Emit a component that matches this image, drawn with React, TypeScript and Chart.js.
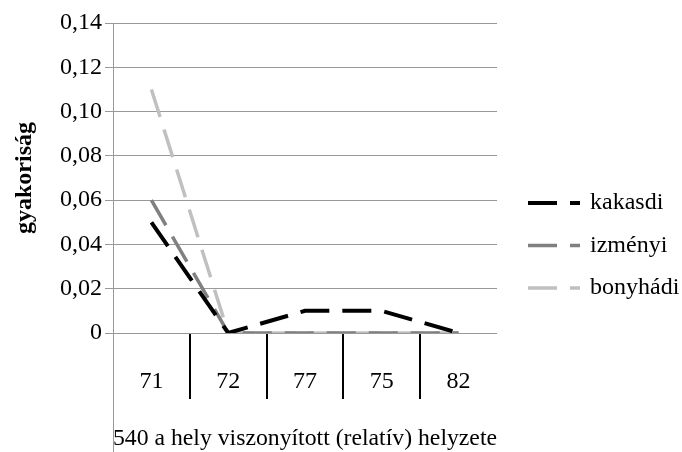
import React, { useEffect, useRef } from "react";
import { Chart, registerables } from "chart.js";

Chart.register(...registerables);

const categories = ["71", "72", "77", "75", "82"];
const seriesNames = ["kakasdi", "izményi", "bonyhádi"];
const kakasdi = [0.05, 0, 0.01, 0.01, 0];
const izmenyi = [0.06, 0, 0, 0, 0];
const bonyhadi = [0.11, 0, 0, 0, 0];
const seriesValues = [kakasdi, izmenyi, bonyhadi];
const seriesColors = ["#000000", "#808080", "#c0c0c0"];
const seriesWidths = [4, 3.5, 3.5];
const yMin = 0;
const yMax = 0.14;
const yStep = 0.02;
const xTitle = "540 a hely viszonyított (relatív) helyzete";
const yTitle = "gyakoriság";

const FONT = "'Liberation Serif', 'Times New Roman', serif";
const GRID = "#999999";
const DASH = [29, 13];

const extrasPlugin = {
  id: "extras",
  afterDraw(chart: any) {
    const { ctx, chartArea } = chart;
    ctx.save();
    // extend left axis line to bottom
    ctx.strokeStyle = GRID;
    ctx.lineWidth = 1;
    ctx.beginPath();
    const x = Math.round(chartArea.left) + 0.5;
    ctx.moveTo(x, chartArea.bottom);
    ctx.lineTo(x, chart.height);
    ctx.stroke();
    // legend
    const lx = 528;
    const lw = 52;
    const ly0 = 203;
    const lgap = 42.5;
    ctx.font = `24px ${FONT}`;
    ctx.textBaseline = "middle";
    ctx.textAlign = "left";
    chart.data.datasets.forEach((ds: any, i: number) => {
      const y = ly0 + i * lgap;
      ctx.strokeStyle = ds.borderColor;
      ctx.lineWidth = ds.borderWidth;
      ctx.lineCap = "butt";
      ctx.setLineDash(ds.borderDash || []);
      ctx.beginPath();
      ctx.moveTo(lx, y);
      ctx.lineTo(lx + lw, y);
      ctx.stroke();
      ctx.setLineDash([]);
      ctx.fillStyle = "#000";
      ctx.fillText(ds.label, lx + lw + 10, y);
    });
    ctx.restore();
  },
};

export default function App() {
  const ref = useRef<HTMLCanvasElement>(null);
  useEffect(() => {
    const canvas = ref.current!;
    const chart = new Chart(canvas, {
      type: "line",
      data: {
        labels: categories,
        datasets: seriesNames.map((name, i) => ({
          label: name,
          data: seriesValues[i],
          borderColor: seriesColors[i],
          backgroundColor: seriesColors[i],
          borderWidth: seriesWidths[i],
          borderDash: DASH,
          borderCapStyle: "butt",
          pointRadius: 0,
          fill: false,
          tension: 0,
        })),
      },
      options: {
        responsive: false,
        animation: false,
        layout: { padding: { left: 0, right: 185, top: 23, bottom: 0 } },
        plugins: {
          legend: { display: false },
          tooltip: { enabled: false },
        },
        scales: {
          x: {
            offset: true,
            grid: {
              offset: true,
              drawOnChartArea: false,
              drawTicks: true,
              tickLength: 66,
              lineWidth: 2,
              color: (c: any) =>
                c.type !== "tick" || c.index === 0 ? "rgba(0,0,0,0)" : "#000000",
            },
            border: { display: false },
            ticks: {
              color: "#000",
              font: { family: FONT, size: 24 },
              padding: -32,
              maxRotation: 0,
              autoSkip: false,
            },
            title: {
              display: true,
              text: xTitle,
              align: "start",
              color: "#000",
              font: { family: FONT, size: 24, lineHeight: 1 },
              padding: { top: 0, bottom: 1 },
            },
            afterFit: (s: any) => {
              s.height = 119;
            },
          },
          y: {
            min: yMin,
            max: yMax,
            grid: {
              color: GRID,
              lineWidth: 1,
              tickLength: 8,
            },
            border: { display: true, color: GRID, width: 1 },
            ticks: {
              stepSize: yStep,
              color: "#000",
              padding: 3,
              font: { family: FONT, size: 24 },
              callback: (v: any) => {
                const n = Number(v);
                return Math.abs(n) < 1e-9 ? "0" : n.toFixed(2).replace(".", ",");
              },
            },
            title: {
              display: true,
              text: yTitle,
              color: "#000",
              font: { family: FONT, size: 24, weight: "bold", lineHeight: 1 },
              padding: { top: 13, bottom: 0 },
            },
            afterFit: (s: any) => {
              s.width = 113;
            },
          },
        },
      },
      plugins: [extrasPlugin],
    } as any);
    return () => chart.destroy();
  }, []);
  return (
    <div style={{ position: "absolute", left: 0, top: 0, width: 682, height: 452, background: "#fff" }}>
      <canvas ref={ref} width={682} height={452} style={{ display: "block" }} />
    </div>
  );
}
